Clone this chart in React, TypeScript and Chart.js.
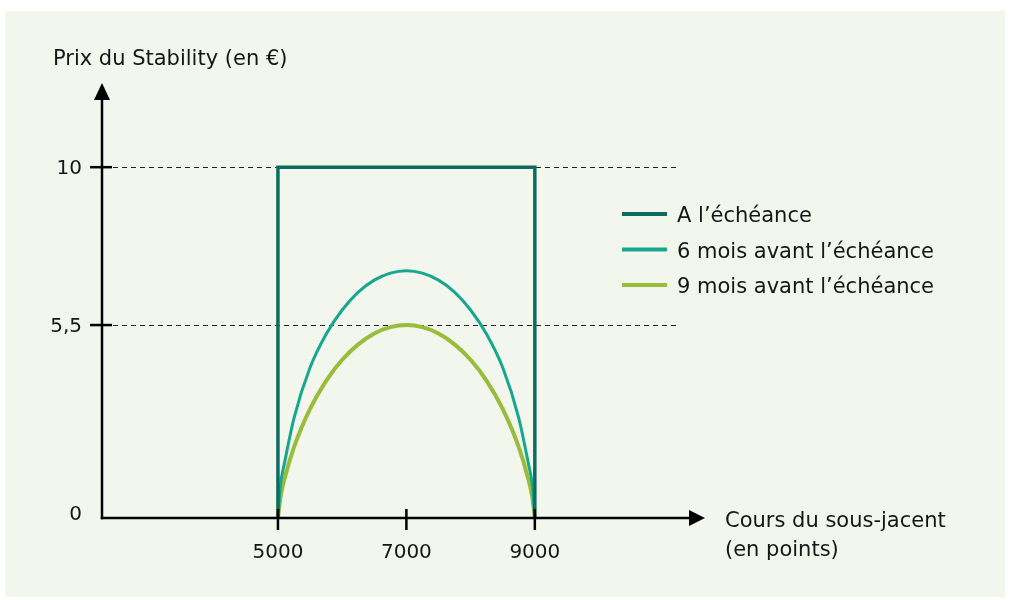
import React, { useEffect, useRef } from "react";
import { Chart, registerables } from "chart.js";

Chart.register(...registerables);

// ---- data ----
const X_TICKS = [5000, 7000, 9000];
const X_TICK_LABELS = ["5000", "7000", "9000"];
const Y_TICKS = [0, 5.5, 10];
const Y_TICK_LABELS = ["0", "5,5", "10"];
const DASHED_LEVELS = [5.5, 10];

const MATURITY_X = [5000, 5000, 9000, 9000];
const MATURITY_Y = [0, 10, 10, 0];

const CURVE_X = [5000, 5040, 5100, 5250, 5500, 5750, 6000, 6250, 6500, 6750, 7000, 7250, 7500, 7750, 8000, 8250, 8500, 8750, 8900, 8960, 9000];
const SIX_MONTHS = [0, 0.95, 1.55, 2.85, 4.29, 5.24, 5.93, 6.44, 6.78, 6.98, 7.05, 6.98, 6.78, 6.44, 5.93, 5.24, 4.29, 2.85, 1.55, 0.95, 0];
const NINE_MONTHS = [0, 0.6, 1.1, 2.02, 3.11, 3.91, 4.51, 4.95, 5.26, 5.44, 5.5, 5.44, 5.26, 4.95, 4.51, 3.91, 3.11, 2.02, 1.1, 0.6, 0];

const SERIES_LABELS = ["A l\u2019échéance", "6 mois avant l\u2019échéance", "9 mois avant l\u2019échéance"];
const SERIES_COLORS = ["#0d6b5f", "#16a78f", "#97bd3a"];

const Y_TITLE = "Prix du Stability (en €)";
const X_TITLE = ["Cours du sous-jacent", "(en points)"];

const FONT = "'DejaVu Sans', sans-serif";
const INK = "#161616";

const pts = (xs: number[], ys: number[]) => xs.map((x, i) => ({ x, y: ys[i] }));

const decorPlugin = {
  id: "decor",
  beforeDatasetsDraw(chart: any) {
    const { ctx, chartArea, scales } = chart;
    const ys = scales.y;
    ctx.save();
    ctx.strokeStyle = "#222";
    ctx.lineWidth = 1.1;
    ctx.setLineDash([5, 4]);
    DASHED_LEVELS.forEach((v) => {
      const y = Math.round(ys.getPixelForValue(v)) + 0.5;
      ctx.beginPath();
      ctx.moveTo(chartArea.left + 11, y);
      ctx.lineTo(chartArea.right - 26, y);
      ctx.stroke();
    });
    ctx.restore();
  },
  afterDatasetsDraw(chart: any) {
    const { ctx, chartArea, scales } = chart;
    const xs = scales.x, ys = scales.y;
    const L = chartArea.left, B = chartArea.bottom, T = chartArea.top, R = chartArea.right;
    ctx.save();
    ctx.strokeStyle = "#000";
    ctx.fillStyle = "#000";
    ctx.lineWidth = 2.5;
    ctx.lineCap = "butt";
    // y axis
    ctx.beginPath();
    ctx.moveTo(L, B + 1.25);
    ctx.lineTo(L, T + 14);
    ctx.stroke();
    ctx.beginPath();
    ctx.moveTo(L, T);
    ctx.lineTo(L - 8, T + 17);
    ctx.lineTo(L + 8, T + 17);
    ctx.closePath();
    ctx.fill();
    // x axis
    ctx.beginPath();
    ctx.moveTo(L - 1.25, B);
    ctx.lineTo(R - 14, B);
    ctx.stroke();
    ctx.beginPath();
    ctx.moveTo(R, B);
    ctx.lineTo(R - 16, B - 8);
    ctx.lineTo(R - 16, B + 8);
    ctx.closePath();
    ctx.fill();
    // y ticks
    Y_TICKS.forEach((v) => {
      if (v === 0) return;
      const y = ys.getPixelForValue(v);
      ctx.beginPath();
      ctx.moveTo(L - 12, y);
      ctx.lineTo(L + 10, y);
      ctx.stroke();
    });
    // x ticks
    X_TICKS.forEach((v) => {
      const x = xs.getPixelForValue(v);
      ctx.beginPath();
      ctx.moveTo(x, B - 9);
      ctx.lineTo(x, B + 12);
      ctx.stroke();
    });
    // labels
    ctx.fillStyle = INK;
    ctx.font = `20px ${FONT}`;
    ctx.textAlign = "right";
    ctx.textBaseline = "alphabetic";
    Y_TICKS.forEach((v, i) => {
      const y = ys.getPixelForValue(v);
      const off = v === 0 ? 2 : 7;
      ctx.fillText(Y_TICK_LABELS[i], L - 20, y + off);
    });
    ctx.textAlign = "center";
    X_TICKS.forEach((v, i) => {
      ctx.fillText(X_TICK_LABELS[i], xs.getPixelForValue(v), B + 40);
    });
    ctx.font = `21px ${FONT}`;
    ctx.textAlign = "left";
    ctx.fillText(Y_TITLE, 48, 54);
    ctx.fillText(X_TITLE[0], R + 20, B + 9);
    ctx.fillText(X_TITLE[1], R + 20, B + 38);
    // legend
    chart.data.datasets.forEach((ds: any, i: number) => {
      const y = 203 + i * 35.5;
      ctx.strokeStyle = ds.borderColor;
      ctx.lineWidth = 4;
      ctx.beginPath();
      ctx.moveTo(617, y);
      ctx.lineTo(662, y);
      ctx.stroke();
      ctx.fillStyle = INK;
      ctx.fillText(ds.label, 672, y + 8);
    });
    ctx.restore();
  },
};

export default function App() {
  const ref = useRef<HTMLCanvasElement>(null);
  useEffect(() => {
    if (!ref.current) return;
    const chart = new Chart(ref.current, {
      type: "line",
      data: {
        datasets: [
          {
            label: SERIES_LABELS[0],
            data: pts(MATURITY_X, MATURITY_Y),
            borderColor: SERIES_COLORS[0],
            borderWidth: 3.5,
            tension: 0,
            borderJoinStyle: "miter",
            pointRadius: 0,
            clip: false,
          },
          {
            label: SERIES_LABELS[1],
            data: pts(CURVE_X, SIX_MONTHS),
            borderColor: SERIES_COLORS[1],
            borderWidth: 3,
            cubicInterpolationMode: "monotone",
            pointRadius: 0,
            clip: false,
          },
          {
            label: SERIES_LABELS[2],
            data: pts(CURVE_X, NINE_MONTHS),
            borderColor: SERIES_COLORS[2],
            borderWidth: 4,
            cubicInterpolationMode: "monotone",
            pointRadius: 0,
            clip: false,
          },
        ],
      },
      options: {
        animation: false,
        responsive: false,
        layout: { padding: { left: 97, right: 300, top: 72, bottom: 79 } },
        plugins: { legend: { display: false }, tooltip: { enabled: false } },
        scales: {
          x: { type: "linear", min: 2260, max: 11650, display: false },
          y: { type: "linear", min: 0, max: 12.4, display: false },
        },
      },
      plugins: [decorPlugin],
    } as any);
    return () => chart.destroy();
  }, []);
  return (
    <div style={{ position: "absolute", left: 0, top: 0, width: 1011, height: 600, background: "#fff" }}>
      <div style={{ position: "absolute", left: 5, top: 11, width: 1000, height: 586, background: "#f3f6ed" }}>
        <canvas ref={ref} width={1000} height={586} style={{ display: "block" }} />
      </div>
    </div>
  );
}
